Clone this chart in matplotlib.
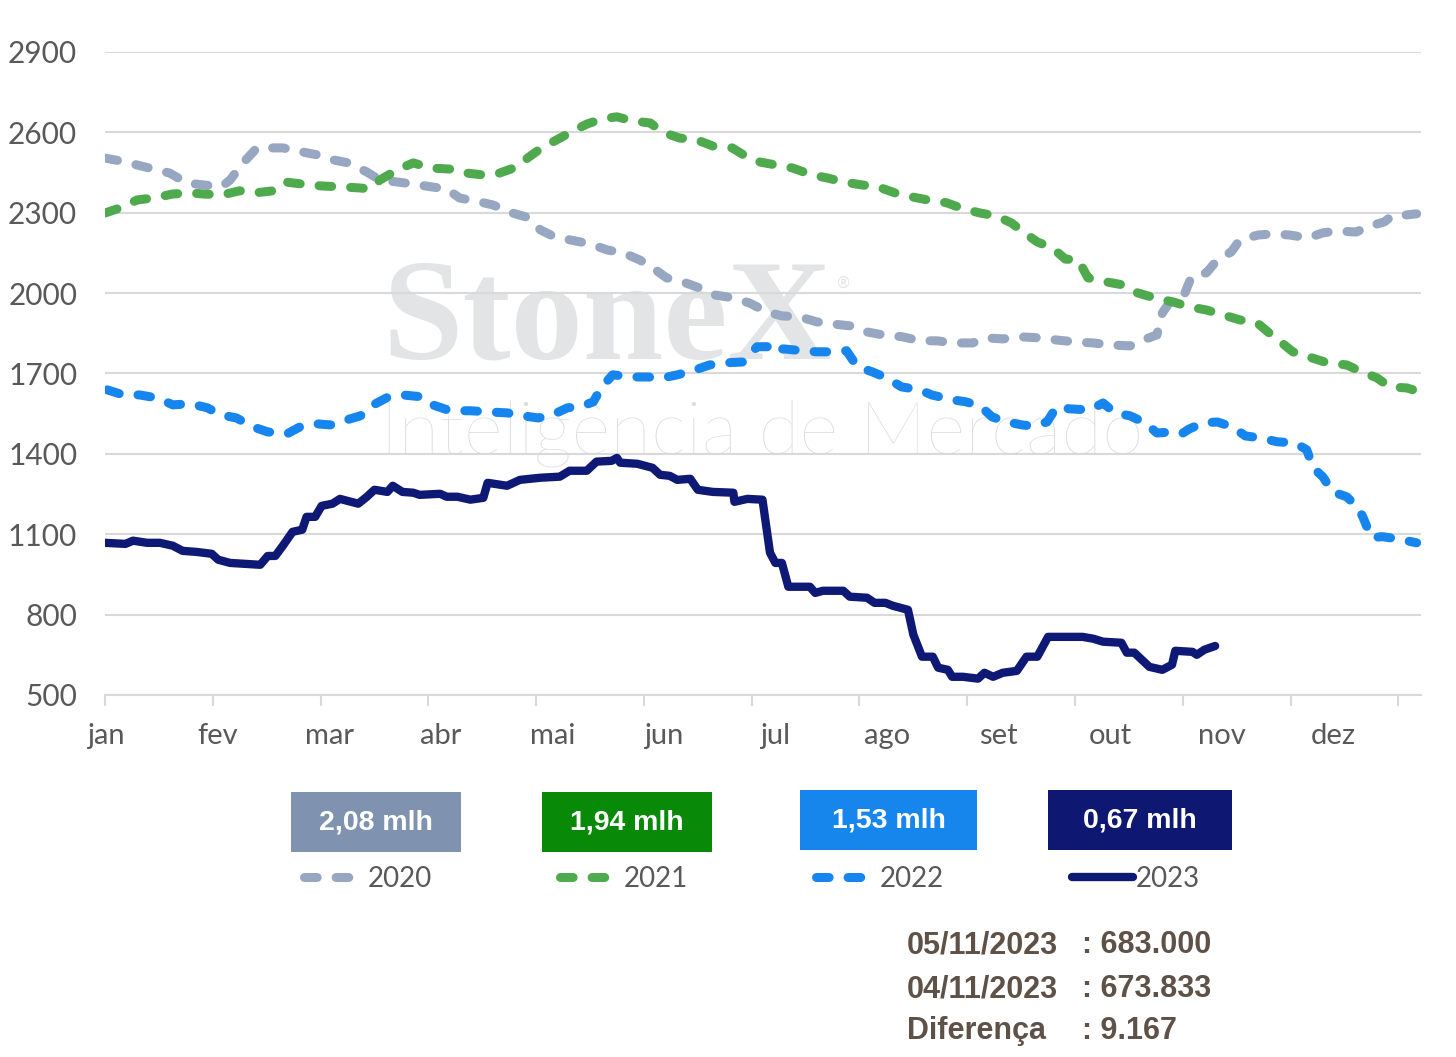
import matplotlib
matplotlib.use('Agg')
import matplotlib.pyplot as plt
from matplotlib.patches import Rectangle
from matplotlib.lines import Line2D

W, H = 1456, 1057

# months since jan 1 (1 unit = 1 month)
x2020 = [0.00, 0.19, 0.30, 0.48, 0.60, 0.76, 0.91, 1.08, 1.16, 1.28, 1.41, 1.53, 1.65, 1.83, 1.97, 2.12,
         2.26, 2.43, 2.55, 2.71, 2.86, 3.02, 3.17, 3.29, 3.48, 3.60, 3.78, 3.91, 4.04, 4.17, 4.31, 4.50,
         4.66, 4.81, 4.96, 5.07, 5.21, 5.36, 5.52, 5.66, 5.83, 5.98, 6.14, 6.28, 6.45, 6.60, 6.75, 6.91,
         7.07, 7.22, 7.40, 7.56, 7.72, 7.87, 8.05, 8.18, 8.33, 8.49, 8.67, 8.83, 9.00, 9.17, 9.32, 9.51,
         9.63, 9.76, 9.81, 9.88, 10.02, 10.08, 10.22, 10.32, 10.45, 10.53, 10.70, 10.83, 10.99, 11.16,
         11.30, 11.43, 11.61, 11.71, 11.87, 11.94, 11.99, 12.17]
y2020 = [2504, 2490, 2478, 2460, 2448, 2411, 2404, 2397, 2422, 2486, 2542, 2542, 2542, 2527, 2516, 2497,
         2486, 2452, 2422, 2415, 2407, 2397, 2389, 2355, 2340, 2329, 2299, 2284, 2236, 2210, 2199, 2184,
         2161, 2150, 2124, 2098, 2057, 2042, 2019, 1993, 1982, 1963, 1930, 1915, 1911, 1893, 1885, 1878,
         1855, 1844, 1837, 1822, 1822, 1814, 1814, 1833, 1829, 1837, 1833, 1825, 1818, 1814, 1807, 1803,
         1825, 1844, 1926, 1967, 2001, 2061, 2076, 2124, 2154, 2199, 2217, 2221, 2217, 2206,
         2225, 2232, 2228, 2247, 2266, 2288, 2288, 2296]

x2021 = [0.00, 0.14, 0.30, 0.45, 0.63, 0.79, 0.91, 1.09, 1.25, 1.39, 1.56, 1.67, 1.83, 2.01, 2.16, 2.35,
         2.46, 2.55, 2.71, 2.86, 3.02, 3.20, 3.36, 3.51, 3.66, 3.82, 3.92, 4.05, 4.19, 4.31, 4.47, 4.61,
         4.75, 4.89, 5.06, 5.17, 5.33, 5.49, 5.64, 5.82, 5.94, 6.08, 6.23, 6.38, 6.56, 6.70, 6.85, 7.02,
         7.17, 7.33, 7.49, 7.63, 7.81, 7.96, 8.12, 8.27, 8.41, 8.52, 8.65, 8.79, 8.91, 9.03, 9.12, 9.29,
         9.44, 9.58, 9.74, 9.91, 10.06, 10.22, 10.37, 10.53, 10.69, 10.79, 10.92, 11.02, 11.20, 11.34,
         11.52, 11.66, 11.80, 11.92, 12.08, 12.20]
y2021 = [2299, 2318, 2348, 2355, 2370, 2374, 2370, 2367, 2382, 2374, 2382, 2415, 2407, 2400, 2397, 2393,
         2389, 2422, 2460, 2486, 2467, 2463, 2448, 2441, 2448, 2471, 2504, 2542, 2572, 2598, 2631, 2650,
         2658, 2643, 2635, 2601, 2579, 2572, 2549, 2542, 2512, 2489, 2478, 2467, 2441, 2430, 2415, 2404,
         2397, 2374, 2359, 2348, 2337, 2315, 2299, 2288, 2262, 2228, 2191, 2169, 2127, 2124, 2057, 2042,
         2031, 2001, 1982, 1967, 1949, 1937, 1919, 1900, 1889, 1855, 1814, 1781, 1758, 1740,
         1732, 1706, 1684, 1650, 1646, 1631]

x2022 = [0.02, 0.17, 0.32, 0.48, 0.63, 0.79, 0.95, 1.07, 1.22, 1.37, 1.51, 1.69, 1.81, 1.97, 2.09, 2.21,
         2.37, 2.49, 2.63, 2.76, 2.94, 3.04, 3.20, 3.39, 3.54, 3.73, 3.88, 4.02, 4.17, 4.29, 4.41, 4.53,
         4.61, 4.71, 4.90, 5.03, 5.18, 5.31, 5.45, 5.61, 5.77, 5.92, 6.05, 6.17, 6.23, 6.29, 6.47, 6.60,
         6.75, 6.88, 6.98, 7.12, 7.25, 7.39, 7.56, 7.67, 7.87, 7.98, 8.12, 8.23, 8.37, 8.51, 8.61, 8.74,
         8.83, 8.95, 9.14, 9.26, 9.37, 9.51, 9.65, 9.76, 9.91, 9.99, 10.06, 10.19, 10.32, 10.46, 10.58,
         10.71, 10.88, 11.04, 11.15, 11.21, 11.30, 11.39, 11.52, 11.62, 11.67, 11.75, 11.85, 11.99, 12.17]
y2022 = [1639, 1620, 1620, 1609, 1583, 1587, 1572, 1546, 1534, 1501, 1482, 1475, 1501, 1512, 1508, 1523,
         1542, 1583, 1613, 1620, 1613, 1583, 1561, 1561, 1557, 1553, 1542, 1534, 1549, 1572, 1576, 1594,
         1650, 1695, 1687, 1687, 1684, 1695, 1710, 1732, 1740, 1743, 1800, 1800, 1777, 1792, 1785, 1781,
         1781, 1785, 1725, 1706, 1684, 1650, 1639, 1620, 1601, 1595, 1579, 1538, 1519, 1508, 1504, 1519,
         1576, 1568, 1564, 1590, 1553, 1542, 1516, 1478, 1482, 1475, 1493, 1516, 1519, 1501, 1467,
         1460, 1445, 1441, 1415, 1348, 1314, 1258, 1240, 1202, 1165, 1087, 1091, 1083, 1068]

x2023 = [0.00, 0.19, 0.26, 0.39, 0.51, 0.63, 0.72, 0.85, 0.99, 1.05, 1.16, 1.28, 1.44, 1.51, 1.58, 1.65,
         1.74, 1.83, 1.87, 1.95, 2.01, 2.11, 2.18, 2.35, 2.43, 2.50, 2.62, 2.67, 2.76, 2.86, 2.92, 3.11,
         3.17, 3.27, 3.39, 3.51, 3.55, 3.73, 3.85, 4.04, 4.22, 4.31, 4.47, 4.56, 4.70, 4.75, 4.78, 4.94,
         5.08, 5.15, 5.24, 5.31, 5.43, 5.50, 5.64, 5.83, 5.84, 5.96, 6.10, 6.17, 6.22, 6.28, 6.34, 6.54,
         6.59, 6.66, 6.85, 6.91, 7.07, 7.14, 7.24, 7.31, 7.45, 7.50, 7.58, 7.68, 7.73, 7.82, 7.86, 7.96,
         8.10, 8.16, 8.24, 8.33, 8.46, 8.55, 8.65, 8.75, 8.89, 9.07, 9.17, 9.26, 9.43, 9.48, 9.55, 9.69,
         9.81, 9.90, 9.93, 10.09, 10.13, 10.20, 10.30]
y2023 = [1068, 1064, 1076, 1068, 1068, 1057, 1038, 1034, 1027, 1005, 993, 990, 986, 1019, 1019, 1057,
         1109, 1117, 1165, 1165, 1206, 1214, 1232, 1214, 1240, 1266, 1258, 1281, 1258, 1255, 1247, 1251,
         1240, 1240, 1229, 1236, 1292, 1281, 1303, 1311, 1315, 1337, 1337, 1371, 1374, 1385, 1367, 1363,
         1348, 1322, 1318, 1303, 1307, 1266, 1258, 1255, 1221, 1232, 1229, 1031, 993, 993, 904, 904,
         881, 889, 889, 867, 863, 844, 844, 833, 818, 725, 643, 643, 602, 594, 568, 568,
         561, 583, 568, 583, 590, 643, 643, 717, 717, 717, 710, 699, 695, 658, 658, 605,
         594, 613, 665, 661, 650, 669, 683]

months = ['jan', 'fev', 'mar', 'abr', 'mai', 'jun', 'jul', 'ago', 'set', 'out', 'nov', 'dez']
yticks = [500, 800, 1100, 1400, 1700, 2000, 2300, 2600, 2900]

years = ['2020', '2021', '2022', '2023']
line_colors = ['#97A6C1', '#4FAA4D', '#1685EE', '#0E1875']
box_colors = ['#7F93B0', '#088A08', '#1685EC', '#0E1872']
box_texts = ['2,08 mlh', '1,94 mlh', '1,53 mlh', '0,67 mlh']

info_labels = ['05/11/2023', '04/11/2023', 'Diferença']
info_values = [': 683.000', ': 673.833', ': 9.167']

fig = plt.figure(figsize=(W / 100, H / 100), dpi=100)
ax = fig.add_axes([105 / W, 1 - 695 / H, 1316 / W, 643 / H])

grid_c = '#D9D9D9'
text_c = '#595959'

ax.set_xlim(0, 12.21)
ax.set_ylim(500, 2900)
for s in ['top', 'right', 'left']:
    ax.spines[s].set_visible(False)
ax.spines['bottom'].set_color(grid_c)
ax.spines['bottom'].set_linewidth(1.5)
ax.set_yticks(yticks)
ax.set_yticklabels([str(v) for v in yticks], fontsize=21.5, color=text_c, family='Lato')
ax.tick_params(axis='y', length=0, pad=20)
ax.yaxis.grid(True, color=grid_c, linewidth=1.5)
ax.set_axisbelow(True)

# tick marks on month boundaries, labels slightly offset
ax.set_xticks(range(13), minor=True)
ax.tick_params(axis='x', which='minor', length=8, width=1.5, color=grid_c)
ax.set_xticks([i * 1.035 + 0.01 for i in range(12)])
ax.set_xticklabels(months, fontsize=21, color=text_c, family='Lato')
ax.tick_params(axis='x', which='major', length=0, pad=20)

# watermark
ax.text(0.211, 0.524, 'StoneX', transform=ax.transAxes, fontsize=104, family='Liberation Serif',
        fontweight='bold', color='#E3E4E6', ha='left', va='baseline', zorder=0)
ax.text(0.561, 0.641, '®', transform=ax.transAxes, fontsize=11, color='#E3E4E6',
        ha='center', va='center', zorder=0)
ax.text(0.209, 0.376, 'Inteligência de Mercado', transform=ax.transAxes, fontsize=54, family='Lato',
        fontweight='light', color='#DADBDC', ha='left', va='baseline', zorder=0)

lw = 6.5
dash = (1.4, 2.1)
xs = [x2020, x2021, x2022, x2023]
ys = [y2020, y2021, y2022, y2023]
for i in range(4):
    if i < 3:
        ax.plot(xs[i], ys[i], color=line_colors[i], lw=lw, dashes=dash,
                dash_capstyle='round', dash_joinstyle='round', zorder=2 + i)
    else:
        ax.plot(xs[i], ys[i], color=line_colors[i], lw=6, solid_capstyle='round',
                solid_joinstyle='round', zorder=6)

# boxes with the values
boxes = [(291, 792, 170, 60), (542, 792, 170, 60), (800, 790, 177, 60), (1048, 790, 184, 60)]
for (bx, by, bw, bh), c, t in zip(boxes, box_colors, box_texts):
    fig.add_artist(Rectangle((bx / W, 1 - (by + bh) / H), bw / W, bh / H,
                             transform=fig.transFigure, facecolor=c, edgecolor='none'))
    fig.text((bx + bw / 2) / W, 1 - (by + bh / 2) / H, t, color='white', fontsize=20.5,
             fontweight='bold', family='Liberation Sans', ha='center', va='center')

handles = []
for i in range(4):
    if i < 3:
        handles.append(Line2D([], [], color=line_colors[i], lw=lw, dashes=dash, dash_capstyle='round'))
    else:
        handles.append(Line2D([], [], color=line_colors[i], lw=6, solid_capstyle='round'))
fig.legend(handles, years, loc='center', bbox_to_anchor=(752 / W, 1 - 879 / H), ncol=4,
           frameon=False, handlelength=2.2, handletextpad=0.1, columnspacing=4.6,
           labelcolor=text_c, prop={'family': 'Lato', 'size': 20})

info_c = '#5E5147'
for k, (lab, val) in enumerate(zip(info_labels, info_values)):
    yy = 1 - [945, 989, 1031][k] / H
    fig.text(907 / W, yy, lab, color=info_c, fontsize=22, fontweight='bold',
             family='Liberation Sans', ha='left', va='center')
    fig.text(1082 / W, yy, val, color=info_c, fontsize=22, fontweight='bold',
             family='Liberation Sans', ha='left', va='center')

fig.savefig('out.png', dpi=100, facecolor='white')
